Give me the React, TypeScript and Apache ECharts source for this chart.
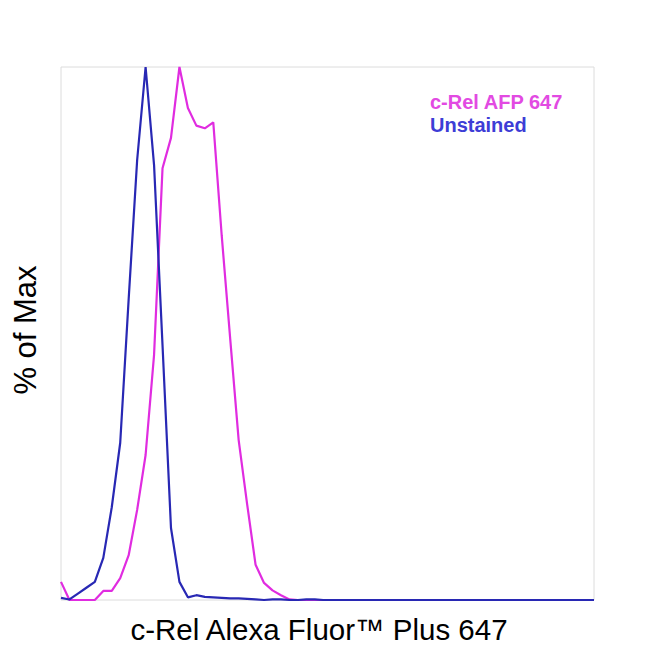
import React, { useEffect, useRef } from "react";
import * as echarts from "echarts";

const bins: number[] = Array.from({ length: 64 }, (_, i) => i);

const unstained: number[] = [
  0.4, 0.1, 1.2, 2.3, 3.4, 7.9, 17.4, 29.5, 56.5, 82.5,
  100, 81.6, 47.8, 13.5, 3.4, 0.5, 0.9, 0.6, 0.5, 0.4,
  0.3, 0.3, 0.2, 0.1, 0.0, 0.1, 0.1, 0.0, 0.0, 0.1,
  0.1, 0.0, 0.0, 0.0, 0.0, 0.0, 0.0, 0.0, 0.0, 0.0,
  0.0, 0.0, 0.0, 0.0, 0.0, 0.0, 0.0, 0.0, 0.0, 0.0,
  0.0, 0.0, 0.0, 0.0, 0.0, 0.0, 0.0, 0.0, 0.0, 0.0,
  0.0, 0.0, 0.0, 0.0,
];

const cRel: number[] = [
  3.4, 0, 0, 0, 0, 1.7, 1.7, 4.1, 8.4, 16.9,
  27.2, 46, 81, 86.7, 100, 92.3, 89, 88.5, 89.6, 68.3,
  49, 30, 18, 6.6, 3.2, 1.8, 0.9, 0.1, 0, 0,
  0, 0, 0, 0, 0, 0, 0, 0, 0, 0,
  0, 0, 0, 0, 0, 0, 0, 0, 0, 0,
  0, 0, 0, 0, 0, 0, 0, 0, 0, 0,
  0, 0, 0, 0,
];

const seriesNames = ["c-Rel AFP 647", "Unstained"];
const xTitle = "c-Rel Alexa Fluor™ Plus 647";
const yTitle = "% of Max";

const FONT = "'Liberation Sans', Arial, Helvetica, sans-serif";

export default function App() {
  const ref = useRef<HTMLDivElement>(null);
  useEffect(() => {
    if (!ref.current) return;
    const chart = echarts.init(ref.current, null, { renderer: "svg" });
    chart.setOption({
      animation: false,
      backgroundColor: "#ffffff",
      grid: {
        left: 61,
        top: 67,
        width: 533,
        height: 533,
        show: true,
        borderColor: "#dcdcdc",
        borderWidth: 1,
        backgroundColor: "transparent",
      },
      xAxis: {
        type: "value",
        min: 0,
        max: 63,
        axisLine: { show: false },
        axisTick: { show: false },
        axisLabel: { show: false },
        splitLine: { show: false },
      },
      yAxis: {
        type: "value",
        min: 0,
        max: 100,
        axisLine: { show: false },
        axisTick: { show: false },
        axisLabel: { show: false },
        splitLine: { show: false },
      },
      legend: {
        orient: "vertical",
        left: 420,
        top: 85,
        icon: "none",
        itemWidth: 0,
        itemHeight: 0,
        itemGap: 0,
        selectedMode: false,
        textStyle: {
          fontFamily: FONT,
          fontSize: 20,
          fontWeight: "bold",
          lineHeight: 23,
        },
        data: [
          { name: seriesNames[0], textStyle: { color: "#e24ae2" } },
          { name: seriesNames[1], textStyle: { color: "#3d3dd6" } },
        ],
      },
      series: [
        {
          name: seriesNames[0],
          type: "line",
          data: bins.map((b, i) => [b, cRel[i]]),
          showSymbol: false,
          clip: false,
          lineStyle: { color: "#e02ce0", width: 2.2 },
          itemStyle: { color: "#e02ce0" },
          z: 2,
        },
        {
          name: seriesNames[1],
          type: "line",
          data: bins.map((b, i) => [b, unstained[i]]),
          showSymbol: false,
          clip: false,
          lineStyle: { color: "#2828b4", width: 2.2 },
          itemStyle: { color: "#2828b4" },
          z: 3,
        },
      ],
      graphic: [
        {
          type: "text",
          x: 319,
          y: 629,
          style: {
            text: xTitle,
            fontFamily: FONT,
            fontSize: 29.5,
            fill: "#000000",
            align: "center",
            verticalAlign: "middle",
          },
        },
        {
          type: "text",
          x: 25,
          y: 330,
          rotation: Math.PI / 2,
          style: {
            text: yTitle,
            fontFamily: FONT,
            fontSize: 31,
            fill: "#000000",
            align: "center",
            verticalAlign: "middle",
          },
        },
      ],
    });
    return () => chart.dispose();
  }, []);
  return (
    <div
      ref={ref}
      style={{ position: "fixed", left: 0, top: 0, width: 650, height: 650 }}
    />
  );
}
